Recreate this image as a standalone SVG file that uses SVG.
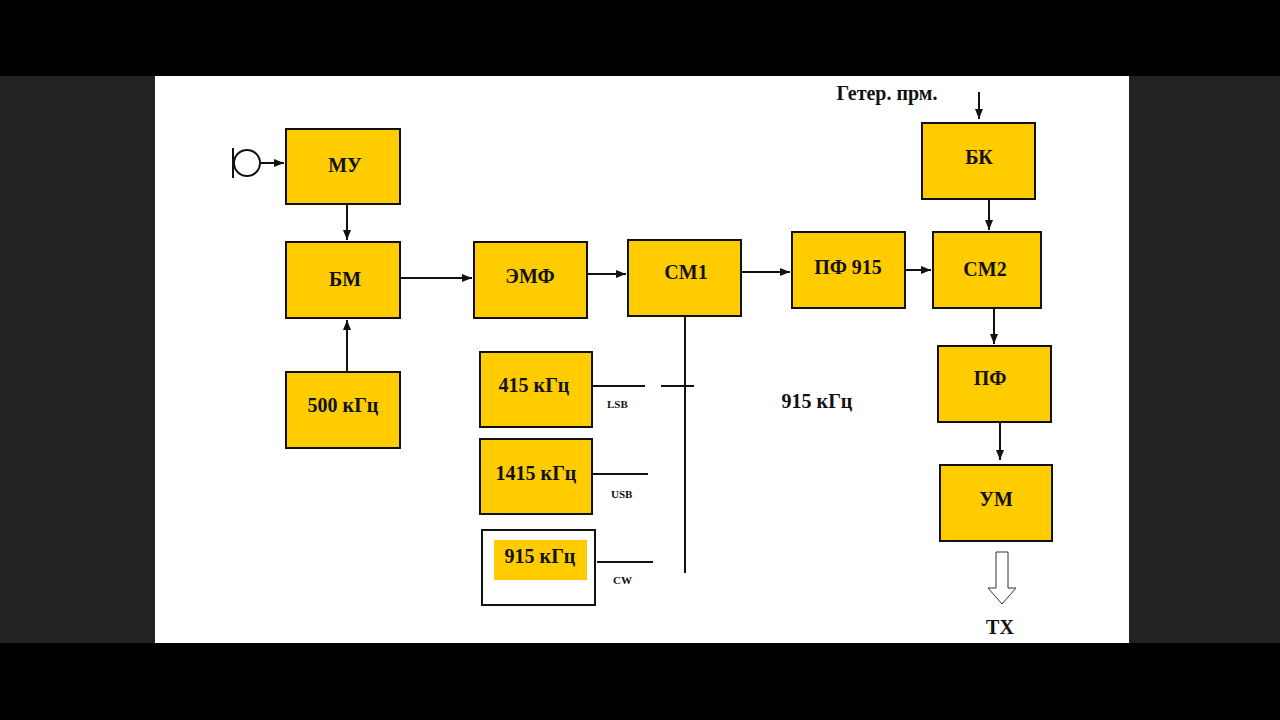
<svg xmlns="http://www.w3.org/2000/svg" width="1280" height="720" viewBox="0 0 1280 720">
<defs>
<style>
.b{fill:#FFCC00;stroke:#111;stroke-width:2}
.t{font-family:"Liberation Serif",serif;font-weight:bold;font-size:20px;fill:#111;text-anchor:middle}
.s{font-family:"Liberation Serif",serif;font-weight:bold;font-size:11px;fill:#111}
.l{stroke:#111;stroke-width:2;fill:none}
</style>
<marker id="a" viewBox="0 0 10 10" refX="10" refY="5" markerWidth="5" markerHeight="5" orient="auto"><path d="M0,1 L10,5 L0,9 z" fill="#111"/></marker>
</defs>
<rect width="1280" height="720" fill="#222"/>
<rect width="1280" height="76" fill="#000"/>
<rect y="643" width="1280" height="77" fill="#000"/>
<rect x="155" y="76" width="974" height="567" fill="#fff"/>
<g id="connectors">
<path class="l" d="M233,148 V178"/>
<circle cx="247" cy="163" r="13" class="l" stroke-width="1.5"/>
<path class="l" d="M261,163 H284" marker-end="url(#a)"/>
<path class="l" d="M347,204 V240" marker-end="url(#a)"/>
<path class="l" d="M347,371 V320" marker-end="url(#a)"/>
<path class="l" d="M400,278 H472" marker-end="url(#a)"/>
<path class="l" d="M587,274 H626" marker-end="url(#a)"/>
<path class="l" d="M741,272 H790" marker-end="url(#a)"/>
<path class="l" d="M905,270 H931" marker-end="url(#a)"/>
<path class="l" d="M979,92 V119" marker-end="url(#a)"/>
<path class="l" d="M989,199 V230" marker-end="url(#a)"/>
<path class="l" d="M994,308 V344" marker-end="url(#a)" stroke-width="1.5"/>
<path class="l" d="M1000,422 V460" marker-end="url(#a)" stroke-width="1.5"/>
<path class="l" d="M685,316 V573"/>
<path class="l" d="M593,386 H645 M661,386 H694"/>
<path class="l" d="M593,474 H648"/>
<path class="l" d="M597,562 H653"/>
<path d="M996,552 H1008 V588 H1016 L1002,604 L988,588 H996 Z" fill="#fff" stroke="#333" stroke-width="1"/>
</g>
<g id="MU"><rect class="b" x="286" y="129" width="114" height="75"/><text class="t" x="345" y="172">МУ</text></g>
<g id="BM"><rect class="b" x="286" y="242" width="114" height="76"/><text class="t" x="345" y="286">БМ</text></g>
<g id="G500"><rect class="b" x="286" y="372" width="114" height="76"/><text class="t" x="343" y="412">500 кГц</text></g>
<g id="EMF"><rect class="b" x="474" y="242" width="113" height="76"/><text class="t" x="530" y="283">ЭМФ</text></g>
<g id="CM1"><rect class="b" x="628" y="240" width="113" height="76"/><text class="t" x="686" y="279">СМ1</text></g>
<g id="PF915"><rect class="b" x="792" y="232" width="113" height="76"/><text class="t" x="848" y="274">ПФ 915</text></g>
<g id="BK"><rect class="b" x="922" y="123" width="113" height="76"/><text class="t" x="979" y="164">БК</text></g>
<g id="CM2"><rect class="b" x="933" y="232" width="108" height="76"/><text class="t" x="985" y="276">СМ2</text></g>
<g id="PF"><rect class="b" x="938" y="346" width="113" height="76"/><text class="t" x="990" y="385">ПФ</text></g>
<g id="UM"><rect class="b" x="940" y="465" width="112" height="76"/><text class="t" x="996" y="506">УМ</text></g>
<g id="G415"><rect class="b" x="480" y="352" width="112" height="75"/><text class="t" x="534" y="392">415 кГц</text></g>
<g id="G1415"><rect class="b" x="480" y="439" width="112" height="75"/><text class="t" x="536" y="480">1415 кГц</text></g>
<g id="G915"><rect x="482" y="530" width="113" height="75" fill="#fff" stroke="#111" stroke-width="2"/><rect x="494" y="540" width="93" height="40" fill="#FFCC00"/><text class="t" x="540" y="563">915 кГц</text></g>
<text class="s" x="607" y="408">LSB</text>
<text class="s" x="611" y="498">USB</text>
<text class="s" x="613" y="584">CW</text>
<text class="t" x="817" y="408">915 кГц</text>
<text class="t" x="887" y="100">Гетер. прм.</text>
<text class="t" x="1000" y="634">ТХ</text>
</svg>
